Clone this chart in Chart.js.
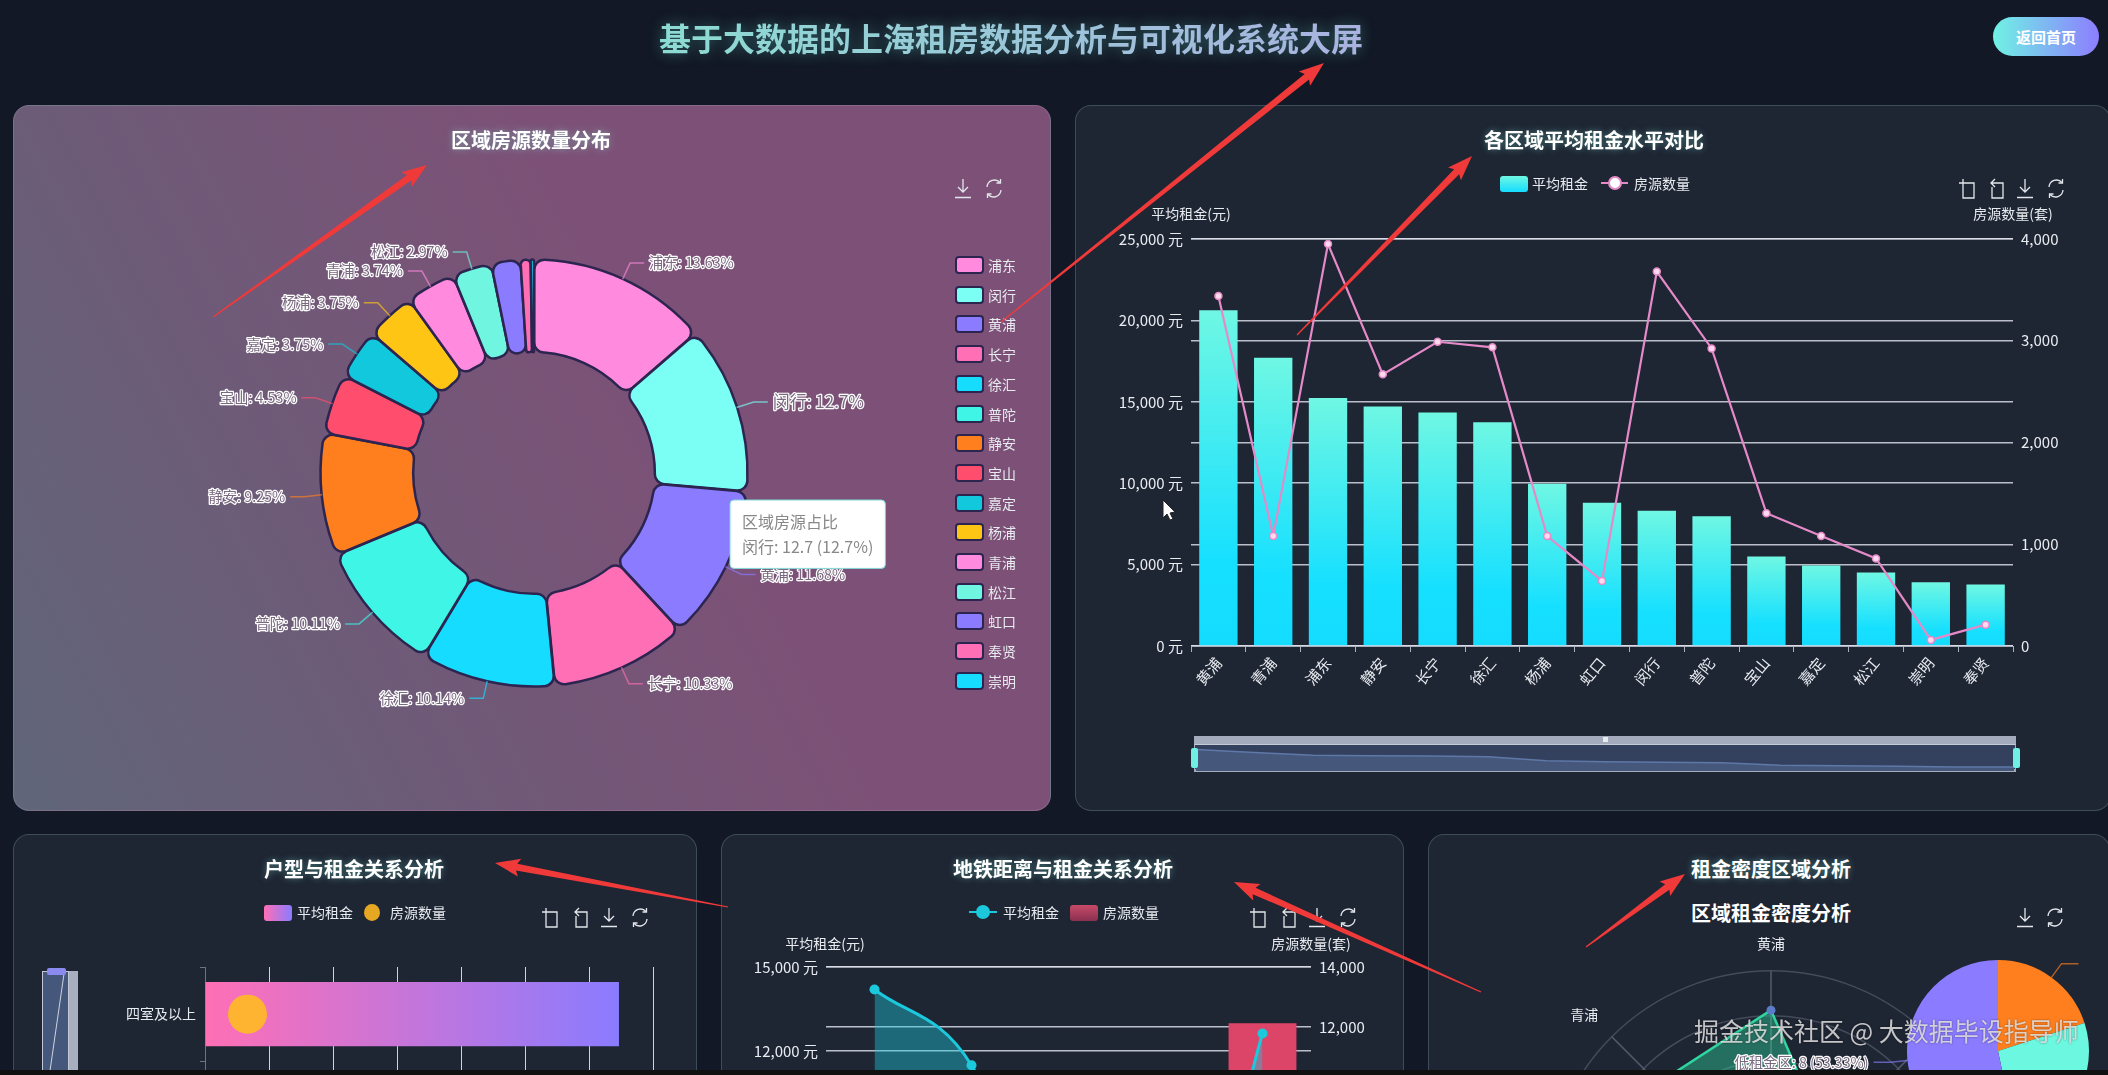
<!DOCTYPE html>
<html lang="zh">
<head>
<meta charset="utf-8">
<title>基于大数据的上海租房数据分析与可视化系统大屏</title>
<script src="https://cdn.jsdelivr.net/npm/chart.js@4"></script>
<style>
  * { box-sizing: border-box; }
  html, body { margin: 0; width: 2108px; height: 1075px; overflow: hidden; background: #121825; font-family: "Noto Sans CJK SC", "Noto Sans", sans-serif; }
  canvas { position: absolute; display: block; }
  .panel { position: absolute; border-radius: 16px; overflow: hidden; background: #1e2533; border: 1px solid rgba(120,150,165,.35); }
  #p1 { background: linear-gradient(62deg, #606679 0%, #6d5b78 30%, #7d5177 62%, #7d5177 100%); border-color: rgba(255,255,255,.12); }
  .txt { position: absolute; white-space: nowrap; transform: translate(-50%, -50%); color: #e8ebf0; font-size: 14px; line-height: 1; z-index: 5; }
  .panel-title { font-size: 20px; font-weight: 700; color: #fff; text-shadow: 0 0 7px rgba(130,240,225,.45); }
  #page-title { position: absolute; left: 659px; top: 15px; font-size: 32px; line-height: 44px; font-weight: 700; white-space: nowrap;
    background: linear-gradient(90deg, #8cdcd2, #aab2e0); -webkit-background-clip: text; background-clip: text; color: transparent;
    filter: drop-shadow(0 0 7px rgba(110,240,225,.35)); }
  #home-btn { position: absolute; left: 1993px; top: 17px; width: 106px; height: 39px; border-radius: 20px; background: linear-gradient(90deg, #70f2e4, #8d7dff);
    color: #fff; font-size: 15px; font-weight: 700; text-align: center; line-height: 39px; }
  .swatch { position: absolute; z-index: 5; }
  .icon { position: absolute; z-index: 5; width: 20px; height: 21px; fill: none; stroke: #e4e7ec; stroke-width: 1.3; }
  #strip { position: absolute; left: 0; top: 1070px; width: 2108px; height: 5px; background: #111; z-index: 20; }
  #overlay { position: absolute; left: 0; top: 0; z-index: 15; pointer-events: none; }
  #mark { position: absolute; left: 1694px; top: 1013px; font-size: 25px; line-height: 34px; color: rgba(235,235,235,.82); white-space: nowrap; z-index: 16; text-shadow: 0 0 2px rgba(0,0,0,.5); }
</style>
</head>
<body>
<div id="page-title">基于大数据的上海租房数据分析与可视化系统大屏</div>
<div id="home-btn">返回首页</div>

<div class="panel" id="p1" style="left:13px;top:105px;width:1038px;height:706px"><canvas id="shareChart" width="1036" height="704"></canvas></div>
<div class="panel" id="p2" style="left:1075px;top:105px;width:1036px;height:706px">
  <canvas id="rentChart" width="1034" height="704"></canvas>
</div>
<div class="panel" id="p3" style="left:13px;top:834px;width:684px;height:260px"><canvas id="typeChart" width="682" height="340"></canvas></div>
<div class="panel" id="p4" style="left:721px;top:834px;width:683px;height:260px"><canvas id="metroChart" width="681" height="600"></canvas></div>
<div class="panel" id="p5" style="left:1428px;top:834px;width:682px;height:260px">
  <canvas id="radarChart" width="680" height="522" style="left:2px;top:100px"></canvas>
  <canvas id="pieChart" width="596" height="212" style="left:271px;top:110px"></canvas>
</div>
<div id="mark">掘金技术社区 @ 大数据毕设指导师</div>
<div id="strip"></div>

<script>
// 区域数据（饼图）
const shareNames = ["浦东", "闵行", "黄浦", "长宁", "徐汇", "普陀", "静安", "宝山", "嘉定", "杨浦", "青浦", "松江", "虹口", "奉贤", "崇明"];
const sharePercents = [13.63, 12.7, 11.68, 10.33, 10.14, 10.11, 9.25, 4.53, 3.75, 3.75, 3.74, 2.97, 2.2, 0.76, 0.25];
const shareColors = ["#ff8ade", "#7bfff4", "#8a7bff", "#ff6fb5", "#16dcff", "#3ef5e6", "#ff7f1e", "#ff4d6d", "#12c8dc", "#ffc515", "#ff8ade", "#6ff5e0", "#8a7bff", "#ff6fb5", "#16dcff"];

// 各区域平均租金
const rentDistricts = ["黄浦", "青浦", "浦东", "静安", "长宁", "徐汇", "杨浦", "虹口", "闵行", "普陀", "宝山", "嘉定", "松江", "崇明", "奉贤"];
const rentValues = [20630, 17710, 15230, 14710, 14340, 13740, 9970, 8800, 8310, 7970, 5490, 4940, 4510, 3910, 3770];
const houseCounts = [3440, 1080, 3950, 2670, 2990, 2935, 1080, 640, 3680, 2925, 1305, 1080, 860, 60, 210];

// 户型
const typeNames = ["四室及以上", ""];
const typeRents = [16170, null];
const typeCounts = [1660];
const typeShadow = [16170, 5900];

// 地铁距离（图中只看得到上半部分）
const metroNames = ["500米内", "1公里内", "1.5公里内", "2公里内", "2公里外"];
const metroRents = [14200, 11500, 3000, 1000, 12630];
const metroCounts = [null, null, null, null, 12130];

// 租金密度
const radarNames = ["黄浦", "虹口", "杨浦", "徐汇", "长宁", "静安", "浦东", "青浦"];
const radarValues = [20630, 8800, 9970, 13740, 14340, 14710, 15230, 17710];
const densityNames = ["高租金区", "中租金区", "低租金区"];
const densityCounts = [3, 4, 8];
const densityPercents = [20, 26.67, 53.33];
const densityColors = ["#ff7f1e", "#6cf7e0", "#8a7bff"];

const FONT = '"Noto Sans CJK SC", "Noto Sans", sans-serif';
const TEXT = "#e8ebf0";
const GRID = "rgba(222,226,236,.82)";
Chart.defaults.font.family = FONT;
Chart.defaults.animation = false;
Chart.defaults.events = [];

const fixedWidth = (w) => (s) => { s.width = w; };

// 扇区标签和引导线
const callout = {
  id: "callout",
  afterDatasetsDraw(chart, args, opts) {
    const ctx = chart.ctx;
    chart.getDatasetMeta(0).data.forEach((arc, i) => {
      const text = opts.texts[i];
      if (text === null) return;
      const mid = (arc.startAngle + arc.endAngle) / 2;
      const cos = Math.cos(mid), sin = Math.sin(mid);
      const side = cos >= 0 ? 1 : -1;
      const x1 = arc.x + cos * arc.outerRadius, y1 = arc.y + sin * arc.outerRadius;
      const x2 = arc.x + cos * (arc.outerRadius + opts.len), y2 = arc.y + sin * (arc.outerRadius + opts.len);
      const x3 = x2 + side * opts.len2;
      ctx.save();
      ctx.strokeStyle = chart.data.datasets[0].backgroundColor[i];
      ctx.globalAlpha = 0.65;
      ctx.lineWidth = 1.5;
      ctx.beginPath();
      ctx.moveTo(x1, y1);
      ctx.lineTo(x2, y2);
      ctx.lineTo(x3, y2);
      ctx.stroke();
      ctx.globalAlpha = 1;
      if (text) {
        const hot = i === opts.hot;
        ctx.font = (hot ? "17px " : "14.3px ") + FONT;
        ctx.textAlign = side > 0 ? "left" : "right";
        ctx.textBaseline = "middle";
        ctx.lineJoin = "round";
        ctx.lineWidth = 2.4;
        ctx.strokeStyle = "#fff";
        ctx.strokeText(text, x3 + side * 5, y2);
        ctx.fillStyle = "#7a6a80";
        ctx.fillText(text, x3 + side * 5, y2);
      }
      ctx.restore();
    });
  },
};

// 区域房源数量分布
Chart.Tooltip.positioners.fixedBox = () => ({ x: 720, y: 394 });
const shareChart = new Chart(document.getElementById("shareChart"), {
  type: "doughnut",
  data: {
    labels: shareNames,
    datasets: [{
      data: sharePercents,
      backgroundColor: shareColors,
      borderColor: "#2c2550",
      borderWidth: 2.5,
      borderRadius: 10,
      spacing: 1,
    }],
  },
  options: {
    responsive: false,
    radius: 213,
    cutout: "56.5%",
    layout: { padding: { left: 4, top: 30 } },
    plugins: {
      legend: { display: false },
      callout: {
        texts: sharePercents.map((v, i) => (v >= 2.97 ? shareNames[i] + ": " + v + "%" : null)),
        len: 18, len2: 14, hot: 1,
      },
      tooltip: {
        animation: false,
        position: "fixedBox",
        xAlign: "left",
        yAlign: "top",
        caretSize: 0,
        caretPadding: 0,
        displayColors: false,
        backgroundColor: "#fff",
        borderColor: "#7fd8d8",
        borderWidth: 1,
        cornerRadius: 4,
        padding: 12,
        titleColor: "#888",
        bodyColor: "#888",
        titleFont: { size: 16, weight: "normal" },
        bodyFont: { size: 16 },
        titleMarginBottom: 6,
        callbacks: {
          title: () => "区域房源占比",
          label: (c) => c.label + ": " + c.raw + " (" + c.raw + "%)",
        },
      },
    },
  },
  plugins: [callout],
});
shareChart.tooltip.setActiveElements([{ datasetIndex: 0, index: 1 }], { x: 0, y: 0 });
shareChart.render();

// 每根柱子自己的渐变
function rentBarFill(c) {
  const y = c.chart.scales.y;
  if (!c.chart.chartArea || !y || c.raw == null) return "#3deaf0";
  const top = y.getPixelForValue(c.raw), base = y.getPixelForValue(0);
  if (!Number.isFinite(top) || !Number.isFinite(base)) return "#3deaf0";
  const g = c.chart.ctx.createLinearGradient(0, top, 0, base);
  g.addColorStop(0, "#6ff7e3");
  g.addColorStop(0.75, "#16e0ff");
  g.addColorStop(1, "#14dcff");
  return g;
}

// 各区域平均租金水平对比
new Chart(document.getElementById("rentChart"), {
  type: "bar",
  data: {
    labels: rentDistricts,
    datasets: [
      { type: "line", label: "房源数量", data: houseCounts, yAxisID: "y1", order: 0, borderColor: "#e58ac8", borderWidth: 2.2, tension: 0,
        pointRadius: 3.5, pointBackgroundColor: "#ffd9ee", pointBorderColor: "#e58ac8", pointBorderWidth: 1.5 },
      { label: "平均租金", data: rentValues, yAxisID: "y", order: 1, backgroundColor: rentBarFill, barPercentage: 0.7, categoryPercentage: 1 },
    ],
  },
  options: {
    responsive: false,
    layout: { padding: { top: 133, right: 37, bottom: 94 } },
    plugins: { legend: { display: false }, tooltip: { enabled: false } },
    scales: {
      x: {
        afterFit: (s) => { s.height = 70; },
        grid: { drawOnChartArea: false, color: "#aab0be", tickLength: 6 },
        border: { color: "#aab0be" },
        ticks: { color: TEXT, font: { size: 15 }, minRotation: 50, maxRotation: 50, autoSkip: false, padding: 2 },
      },
      y: {
        position: "left", min: 0, max: 25000,
        afterFit: fixedWidth(115),
        grid: { color: GRID, lineWidth: 1.5, drawTicks: false },
        border: { display: false },
        ticks: { stepSize: 5000, color: TEXT, font: { size: 15 }, padding: 8, callback: (v) => v.toLocaleString("en-US") + " 元" },
      },
      y1: {
        position: "right", min: 0, max: 4000,
        afterFit: fixedWidth(60),
        grid: { color: GRID, lineWidth: 1.5, drawTicks: false },
        border: { display: false },
        ticks: { stepSize: 1000, color: TEXT, font: { size: 15 }, padding: 8, callback: (v) => v.toLocaleString("en-US") },
      },
    },
  },
});

// 底部缩放条里的缩略图
function addDom(tag, css, parent) {
  const el = document.createElement(tag);
  el.style.cssText = css;
  (parent || document.body).appendChild(el);
  return el;
}
addDom("div", "position:absolute;left:118px;top:630px;width:822px;height:8px;background:#a4abbd;z-index:4", document.getElementById("p2"));
addDom("div", "position:absolute;left:118px;top:638px;width:822px;height:28px;background:#34415e;border-left:1px solid #a4abbd;border-right:1px solid #a4abbd;border-bottom:3px solid #a4abbd;border-top:1px solid #c5cad6", document.getElementById("p2"));
const sliderCanvas = addDom("canvas", "left:120px;top:639px;z-index:3", document.getElementById("p2"));
sliderCanvas.width = 818;
sliderCanvas.height = 26;
new Chart(sliderCanvas, {
  type: "line",
  data: { labels: rentDistricts, datasets: [{ data: rentValues, borderColor: "#5e78a8", borderWidth: 1.5, pointRadius: 0, tension: 0, fill: "origin", backgroundColor: "#46577c" }] },
  options: {
    responsive: false,
    plugins: { legend: { display: false }, tooltip: { enabled: false } },
    scales: { x: { display: false }, y: { display: false, min: 0, max: 25000 } },
  },
});
addDom("div", "position:absolute;left:115px;top:642px;width:7px;height:20px;border-radius:2px;background:#70f0e4;z-index:6", document.getElementById("p2"));
addDom("div", "position:absolute;left:937px;top:642px;width:7px;height:20px;border-radius:2px;background:#70f0e4;z-index:6", document.getElementById("p2"));
addDom("div", "position:absolute;left:527px;top:631px;width:5px;height:5px;background:#e8ebf0;z-index:6", document.getElementById("p2"));

// 户型与租金关系分析
function typeBarFill(c) {
  const x = c.chart.scales.x;
  if (!c.chart.chartArea || !x) return "#ff6fb5";
  const from = x.getPixelForValue(0), to = x.getPixelForValue(typeRents[0]);
  if (!Number.isFinite(from) || !Number.isFinite(to)) return "#ff6fb5";
  const g = c.chart.ctx.createLinearGradient(from, 0, to, 0);
  g.addColorStop(0, "#ff6fb5");
  g.addColorStop(1, "#8a7bff");
  return g;
}
new Chart(document.getElementById("typeChart"), {
  type: "bar",
  data: {
    labels: typeNames,
    datasets: [
      { type: "bubble", label: "房源数量", order: 0, data: typeCounts.map((v, i) => ({ x: v, y: typeNames[i], r: 19.5 })), backgroundColor: "#ffb431", borderWidth: 0 },
      { label: "平均租金", order: 1, data: typeRents, backgroundColor: typeBarFill, barPercentage: 0.68, categoryPercentage: 1 },
    ],
  },
  options: {
    responsive: false,
    indexAxis: "y",
    layout: { padding: { top: 132, right: 43, bottom: 2 } },
    plugins: { legend: { display: false }, tooltip: { enabled: false } },
    scales: {
      x: { type: "linear", min: 0, max: 17500, afterFit: (s) => { s.height = 0; },
        grid: { color: "rgba(240,242,246,.85)", drawTicks: false },
        border: { display: false },
        ticks: { display: false, stepSize: 2500 } },
      y: { type: "category", labels: typeNames, afterFit: fixedWidth(191),
        grid: { drawOnChartArea: false, color: "#6b7384", tickLength: 5, offset: true },
        border: { color: "#6b7384" },
        ticks: { color: TEXT, font: { size: 14 }, padding: 4 } },
    },
  },
});

// 户型图左边的竖向缩放条
addDom("div", "position:absolute;left:28px;top:136px;width:27px;height:110px;background:#46577c;border:1px solid #c2c8d6", document.getElementById("p3"));
addDom("div", "position:absolute;left:55px;top:136px;width:9px;height:110px;background:#a8b0c0", document.getElementById("p3"));
const typeSliderCanvas = addDom("canvas", "left:28px;top:140px;z-index:3", document.getElementById("p3"));
typeSliderCanvas.width = 27;
typeSliderCanvas.height = 96;
new Chart(typeSliderCanvas, {
  type: "line",
  data: { labels: ["a", "b"], datasets: [{ data: typeShadow, borderColor: "#cdd3e0", borderWidth: 1, pointRadius: 0, tension: 0 }] },
  options: {
    responsive: false,
    indexAxis: "y",
    plugins: { legend: { display: false }, tooltip: { enabled: false } },
    scales: { x: { display: false, min: 0, max: 20000 }, y: { display: false } },
  },
});
addDom("div", "position:absolute;left:33px;top:133px;width:19px;height:7px;border-radius:2px;background:#8a8af0;z-index:6", document.getElementById("p3"));

// 地铁距离与租金关系分析
new Chart(document.getElementById("metroChart"), {
  type: "bar",
  data: {
    labels: metroNames,
    datasets: [
      { type: "line", label: "平均租金", data: metroRents, yAxisID: "y", order: 0, borderColor: "#1cc9dc", borderWidth: 3, cubicInterpolationMode: "monotone",
        pointRadius: 5, pointBackgroundColor: "#1cc9dc", pointBorderWidth: 0, fill: "origin", backgroundColor: "rgba(28,201,220,.42)" },
      { label: "房源数量", data: metroCounts, yAxisID: "y1", order: 1, backgroundColor: "#dc4468", barPercentage: 0.7, categoryPercentage: 1 },
    ],
  },
  options: {
    responsive: false,
    layout: { padding: { top: 132, right: 32, bottom: 47 } },
    plugins: { legend: { display: false }, tooltip: { enabled: false } },
    scales: {
      x: { display: false },
      y: { position: "left", min: 0, max: 15000, afterFit: fixedWidth(104),
        grid: { color: GRID, lineWidth: 1.5, drawTicks: false },
        border: { display: false },
        ticks: { stepSize: 3000, color: TEXT, font: { size: 15 }, padding: 8, callback: (v) => v.toLocaleString("en-US") + " 元" } },
      y1: { position: "right", min: 0, max: 14000, afterFit: fixedWidth(60),
        grid: { color: GRID, lineWidth: 1.5, drawTicks: false },
        border: { display: false },
        ticks: { stepSize: 2000, color: TEXT, font: { size: 15 }, padding: 8, callback: (v) => v.toLocaleString("en-US") } },
    },
  },
});

// 区域租金密度分析 - 雷达
new Chart(document.getElementById("radarChart"), {
  type: "radar",
  data: {
    labels: radarNames,
    datasets: [{ data: radarValues, borderColor: "#2fd6a0", borderWidth: 2.5, backgroundColor: "rgba(47,214,160,.42)", pointRadius: 4.5, pointBackgroundColor: "#5b7cc8", pointBorderWidth: 0 }],
  },
  options: {
    responsive: false,
    plugins: { legend: { display: false }, tooltip: { enabled: false } },
    scales: {
      r: {
        min: 0, max: 25000,
        ticks: { display: false, stepSize: 5000 },
        grid: { circular: true, color: "#444b5a", lineWidth: 1.5 },
        angleLines: { color: "#555c6b", lineWidth: 1.5 },
        pointLabels: { color: TEXT, font: { size: 14 }, padding: 19 },
      },
    },
  },
});

// 区域租金密度分析 - 饼
new Chart(document.getElementById("pieChart"), {
  type: "pie",
  data: { labels: densityNames, datasets: [{ data: densityCounts, backgroundColor: densityColors, borderWidth: 0 }] },
  options: {
    responsive: false,
    radius: 91,
    plugins: {
      legend: { display: false },
      tooltip: { enabled: false },
      callout: {
        // 右边的标签在原图里被裁掉了，只留引导线
        texts: densityNames.map((n, i) => (i === 2 ? n + ": " + densityCounts[i] + " (" + densityPercents[i] + "%)" : "")),
        len: 17, len2: 17, hot: -1,
      },
    },
  },
  plugins: [callout],
});

// ---------- 文字、图例、工具图标 ----------
function text(x, y, str, cls, style) {
  const el = document.createElement("div");
  el.className = "txt " + (cls || "");
  el.style.left = x + "px";
  el.style.top = y + "px";
  if (style) el.style.cssText += style;
  el.textContent = str;
  document.body.appendChild(el);
}
function swatch(x, y, w, h, fill, extra) {
  addDom("div", "left:" + x + "px;top:" + y + "px;width:" + w + "px;height:" + h + "px;background:" + fill + ";" + (extra || ""), document.body).className = "swatch";
}
text(531, 140, "区域房源数量分布", "panel-title");
text(1594, 140, "各区域平均租金水平对比", "panel-title");
text(354, 869, "户型与租金关系分析", "panel-title");
text(1063, 869, "地铁距离与租金关系分析", "panel-title");
text(1771, 869, "租金密度区域分析", "panel-title");
text(1771, 913, "区域租金密度分析", "", "font-size:20px;font-weight:700;color:#fff");

// 饼图图例
shareNames.forEach((n, i) => {
  const y = 265 + i * 29.7;
  swatch(955, y - 9, 29, 18, shareColors[i], "border:2px solid #2c2550;border-radius:4px");
  text(1002, y, n);
});

// 租金图图例和坐标轴名
swatch(1500, 176, 28, 16, "linear-gradient(180deg,#6ff7e3,#14dcff)", "border-radius:3px");
text(1560, 183, "平均租金");
swatch(1601, 182, 27, 2, "#e58ac8");
swatch(1608, 176, 14, 14, "#fff", "border:2px solid #e58ac8;border-radius:50%");
text(1662, 183, "房源数量");
text(1191, 213, "平均租金(元)");
text(2013, 213, "房源数量(套)");

// 户型图例
swatch(263.5, 905, 28, 16, "linear-gradient(90deg,#ff6fb5,#8a7bff)", "border-radius:3px");
text(325, 912, "平均租金");
swatch(364, 904, 16, 17, "#e6a823", "border-radius:50%");
text(418, 912, "房源数量");

// 地铁图例和坐标轴名
swatch(969, 911, 28, 2, "#1cc9dc");
swatch(976, 905, 14, 14, "#1cc9dc", "border-radius:50%");
text(1031, 912, "平均租金");
swatch(1069.5, 905, 28, 16, "linear-gradient(180deg,#c84a68,#8a3050)", "border-radius:3px");
text(1131, 912, "房源数量");
text(825, 943, "平均租金(元)");
text(1311, 943, "房源数量(套)");

const ICONS = {
  crop: '<path d="M5 1v4M1 5h15v15H5V5"/>',
  undo: '<path d="M8 1L4 5l4 4M4 5h12v15H5V9"/>',
  save: '<path d="M10 1v13M5 9l5 5 5-5M2 19.5h16"/>',
  refresh: '<path d="M3 9a7.5 7.5 0 0 1 13-4.5M17 12a7.5 7.5 0 0 1-13 4.5"/><path d="M16.5 1v4h-4M3.5 20v-4h4"/>',
};
function icons(list) {
  list.forEach(([name, x, y]) => {
    const svg = document.createElementNS("http://www.w3.org/2000/svg", "svg");
    svg.setAttribute("class", "icon");
    svg.setAttribute("viewBox", "0 0 20 21");
    svg.style.left = x - 10 + "px";
    svg.style.top = y - 10 + "px";
    svg.innerHTML = ICONS[name];
    document.body.appendChild(svg);
  });
}
icons([
  ["save", 963, 188], ["refresh", 994, 188],
  ["crop", 1968, 188], ["undo", 1997, 188], ["save", 2025, 188], ["refresh", 2056, 188],
  ["crop", 551, 917], ["undo", 581, 917], ["save", 609, 917], ["refresh", 640, 917],
  ["crop", 1259, 917], ["undo", 1289, 917], ["save", 1317, 917], ["refresh", 1348, 917],
  ["save", 2025, 917], ["refresh", 2055, 917],
]);

// ---------- 视频里的红色箭头和鼠标 ----------
const arrows = [
  [[213, 317], [427, 165]],
  [[1001, 322], [1324, 63]],
  [[1297, 335], [1472, 156]],
  [[728, 907], [495, 863]],
  [[1481, 992], [1234, 882]],
  [[1586, 947], [1685, 874]],
];
let shapes = "";
arrows.forEach(([t, h]) => {
  const dx = h[0] - t[0], dy = h[1] - t[1];
  const len = Math.hypot(dx, dy);
  const ux = dx / len, uy = dy / len, nx = -uy, ny = ux;
  const neckX = h[0] - ux * 22, neckY = h[1] - uy * 22;
  const pts = [
    [t[0] + nx * 0.6, t[1] + ny * 0.6],
    [neckX + nx * 3.5, neckY + ny * 3.5],
    [neckX + nx * 9 - ux * 3, neckY + ny * 9 - uy * 3],
    h,
    [neckX - nx * 9 - ux * 3, neckY - ny * 9 - uy * 3],
    [neckX - nx * 3.5, neckY - ny * 3.5],
    [t[0] - nx * 0.6, t[1] - ny * 0.6],
  ];
  shapes += '<polygon fill="#f03a3a" points="' + pts.map((p) => p.join(",")).join(" ") + '"/>';
});
// 鼠标指针
shapes += '<path d="M1163 500l0 18 4-4 3 6 3-1-3-6 5-1z" fill="#fff" stroke="#222" stroke-width="1"/>';
const overlay = document.createElementNS("http://www.w3.org/2000/svg", "svg");
overlay.setAttribute("id", "overlay");
overlay.setAttribute("width", "2108");
overlay.setAttribute("height", "1075");
overlay.innerHTML = shapes;
document.body.appendChild(overlay);
</script>
</body>
</html>
